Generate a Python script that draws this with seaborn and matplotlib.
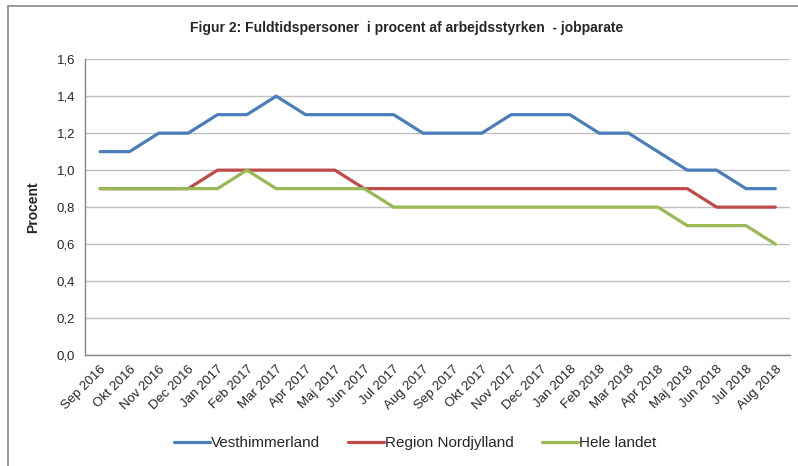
import matplotlib
matplotlib.use("Agg")
import matplotlib.pyplot as plt
import matplotlib.ticker as mticker
import seaborn as sns
import pandas as pd
import numpy as np

months = ["Sep 2016", "Okt 2016", "Nov 2016", "Dec 2016", "Jan 2017", "Feb 2017",
          "Mar 2017", "Apr 2017", "Maj 2017", "Jun 2017", "Jul 2017", "Aug 2017",
          "Sep 2017", "Okt 2017", "Nov 2017", "Dec 2017", "Jan 2018", "Feb 2018",
          "Mar 2018", "Apr 2018", "Maj 2018", "Jun 2018", "Jul 2018", "Aug 2018"]
vesthimmerland = [1.1, 1.1, 1.2, 1.2, 1.3, 1.3, 1.4, 1.3, 1.3, 1.3, 1.3, 1.2,
                  1.2, 1.2, 1.3, 1.3, 1.3, 1.2, 1.2, 1.1, 1.0, 1.0, 0.9, 0.9]
nordjylland = [0.9, 0.9, 0.9, 0.9, 1.0, 1.0, 1.0, 1.0, 1.0, 0.9, 0.9, 0.9,
               0.9, 0.9, 0.9, 0.9, 0.9, 0.9, 0.9, 0.9, 0.9, 0.8, 0.8, 0.8]
hele_landet = [0.9, 0.9, 0.9, 0.9, 0.9, 1.0, 0.9, 0.9, 0.9, 0.9, 0.8, 0.8,
               0.8, 0.8, 0.8, 0.8, 0.8, 0.8, 0.8, 0.8, 0.7, 0.7, 0.7, 0.6]
series = ["Vesthimmerland", "Region Nordjylland", "Hele landet"]
colors = ["#4A7EBB", "#BE4B48", "#98B954"]

df = pd.DataFrame({"Måned": months,
                   series[0]: vesthimmerland,
                   series[1]: nordjylland,
                   series[2]: hele_landet})
long = df.melt(id_vars="Måned", var_name="Serie", value_name="Procent")
long["pos"] = long["Måned"].map({m: i for i, m in enumerate(months)})

sns.set_style("white")
plt.rcParams["font.family"] = ["Liberation Sans", "DejaVu Sans"]

fig = plt.figure(figsize=(7.98, 4.66), dpi=100)
ax = fig.add_axes([0.107, 0.238, 0.883, 0.635])

sns.lineplot(data=long, x="pos", y="Procent", hue="Serie", hue_order=series,
             palette=colors, linewidth=2.3, ax=ax, sort=False)

ax.set_xlim(-0.5, len(months) - 0.5)
ax.set_ylim(0, 1.6)
ax.set_yticks(np.arange(0, 1.61, 0.2))
ax.yaxis.set_major_formatter(mticker.FuncFormatter(lambda v, p: f"{v:.1f}".replace(".", ",")))
ax.yaxis.grid(True, color="#BFBFBF", linewidth=1)
ax.set_axisbelow(True)

ax.set_xticks(np.arange(len(months)))
ax.set_xticklabels(months, rotation=45, ha="right", rotation_mode="anchor", fontsize=9.5)
ax.set_xticks(np.arange(-0.5, len(months)), minor=True)
ax.tick_params(axis="x", which="major", length=0, pad=6)
ax.tick_params(axis="x", which="minor", length=4, color="#868686", direction="out")
ax.tick_params(axis="y", length=4, color="#868686", direction="out", labelsize=9.5)

for s in ["top", "right"]:
    ax.spines[s].set_visible(False)
for s in ["left", "bottom"]:
    ax.spines[s].set_color("#868686")
    ax.spines[s].set_linewidth(1)

ax.set_xlabel("")
ax.set_ylabel("Procent", fontsize=10, fontweight="bold", labelpad=12)
fig.suptitle("Figur 2: Fuldtidspersoner  i procent af arbejdsstyrken  - jobparate",
             x=0.51, y=0.955, fontsize=10, fontweight="bold")

ax.legend(loc="center", bbox_to_anchor=(0.468, -0.297), ncol=3, frameon=False,
          fontsize=11, handlelength=2.35, handletextpad=0.1, columnspacing=1.8)

# frame: only left and top edges visible in the cropped reference
fig.add_artist(plt.Line2D([0.0095, 0.0095], [0, 0.988], transform=fig.transFigure,
                          color="#868686", linewidth=1.2))
fig.add_artist(plt.Line2D([0.0095, 1], [0.988, 0.988], transform=fig.transFigure,
                          color="#868686", linewidth=1.2))

fig.savefig("out.png", dpi=100)
